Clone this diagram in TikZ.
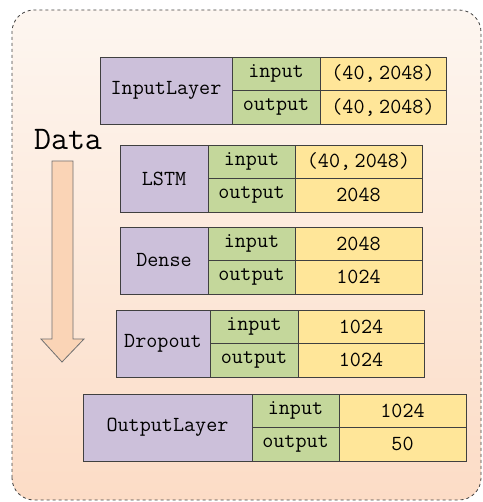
\documentclass[tikz,border=0pt]{standalone}
\usepackage{fontspec}
\usepackage{xcolor}
\usepackage{tikz}
\usetikzlibrary{positioning,calc}
\definecolor{namepurple}{RGB}{204,192,218}
\definecolor{keygreen}{RGB}{196,215,155}
\definecolor{valyellow}{RGB}{255,230,153}
\definecolor{cellline}{RGB}{64,64,64}
\definecolor{bgtop}{RGB}{253,246,240}
\definecolor{bgmid}{RGB}{249,210,182}
\definecolor{bgbot}{RGB}{252,220,198}
\definecolor{flowfill}{RGB}{250,212,182}

\begin{document}
\begin{tikzpicture}[
  x=1pt,y=1pt,
  cell/.style={rectangle,draw=cellline,thick,inner sep=0pt,outer sep=0pt,anchor=north west,font=\fontsize{21.5}{24}\ttfamily},
  namecell/.style={cell,fill=namepurple,minimum height=67pt},
  keycell/.style={cell,fill=keygreen,minimum height=33.5pt},
  valcell/.style={cell,fill=valyellow,minimum height=33.5pt}
]
\useasboundingbox (0,0) rectangle (482,502);
% panel behind the layers
\shade[top color=bgtop,middle color=bgmid,bottom color=bgbot,rounded corners=22pt] (12,2) rectangle (481,492);
\draw[dashed,thick,cellline,rounded corners=22pt] (12,2) rectangle (481,492);
% data flow
\node[font=\fontsize{33}{36}\ttfamily] (data) at (68,362) {Data};
\draw[draw=cellline!75,fill=flowfill,thick] (52,341) -- (73,341) -- (73,163) -- (84,163) -- (62,140) -- (41,163) -- (52,163) -- cycle;
% InputLayer
\node[namecell,minimum width=132pt] (inputlayer) at (100,445) {InputLayer};
\node[keycell,minimum width=88pt] (in1) at (inputlayer.north east) {input};
\node[keycell,minimum width=88pt] (out1) at (in1.south west) {output};
\node[valcell,minimum width=126pt] (vin1) at (in1.north east) {(40,\,2048)};
\node[valcell,minimum width=126pt] (vout1) at (out1.north east) {(40,\,2048)};
% LSTM
\node[namecell,minimum width=88pt] (lstm) at (120,357) {LSTM};
\node[keycell,minimum width=87pt] (in2) at (lstm.north east) {input};
\node[keycell,minimum width=87pt] (out2) at (in2.south west) {output};
\node[valcell,minimum width=127pt] (vin2) at (in2.north east) {(40,\,2048)};
\node[valcell,minimum width=127pt] (vout2) at (out2.north east) {2048};
% Dense
\node[namecell,minimum width=88pt] (dense) at (120,275) {Dense};
\node[keycell,minimum width=87pt] (in3) at (dense.north east) {input};
\node[keycell,minimum width=87pt] (out3) at (in3.south west) {output};
\node[valcell,minimum width=127pt] (vin3) at (in3.north east) {2048};
\node[valcell,minimum width=127pt] (vout3) at (out3.north east) {1024};
% Dropout
\node[namecell,minimum width=94pt] (dropout) at (116,192) {Dropout};
\node[keycell,minimum width=88pt] (in4) at (dropout.north east) {input};
\node[keycell,minimum width=88pt] (out4) at (in4.south west) {output};
\node[valcell,minimum width=126pt] (vin4) at (in4.north east) {1024};
\node[valcell,minimum width=126pt] (vout4) at (out4.north east) {1024};
% OutputLayer
\node[namecell,minimum width=169pt] (outputlayer) at (83,108) {OutputLayer};
\node[keycell,minimum width=87pt] (in5) at (outputlayer.north east) {input};
\node[keycell,minimum width=87pt] (out5) at (in5.south west) {output};
\node[valcell,minimum width=127pt] (vin5) at (in5.north east) {1024};
\node[valcell,minimum width=127pt] (vout5) at (out5.north east) {50};
\end{tikzpicture}
\end{document}
